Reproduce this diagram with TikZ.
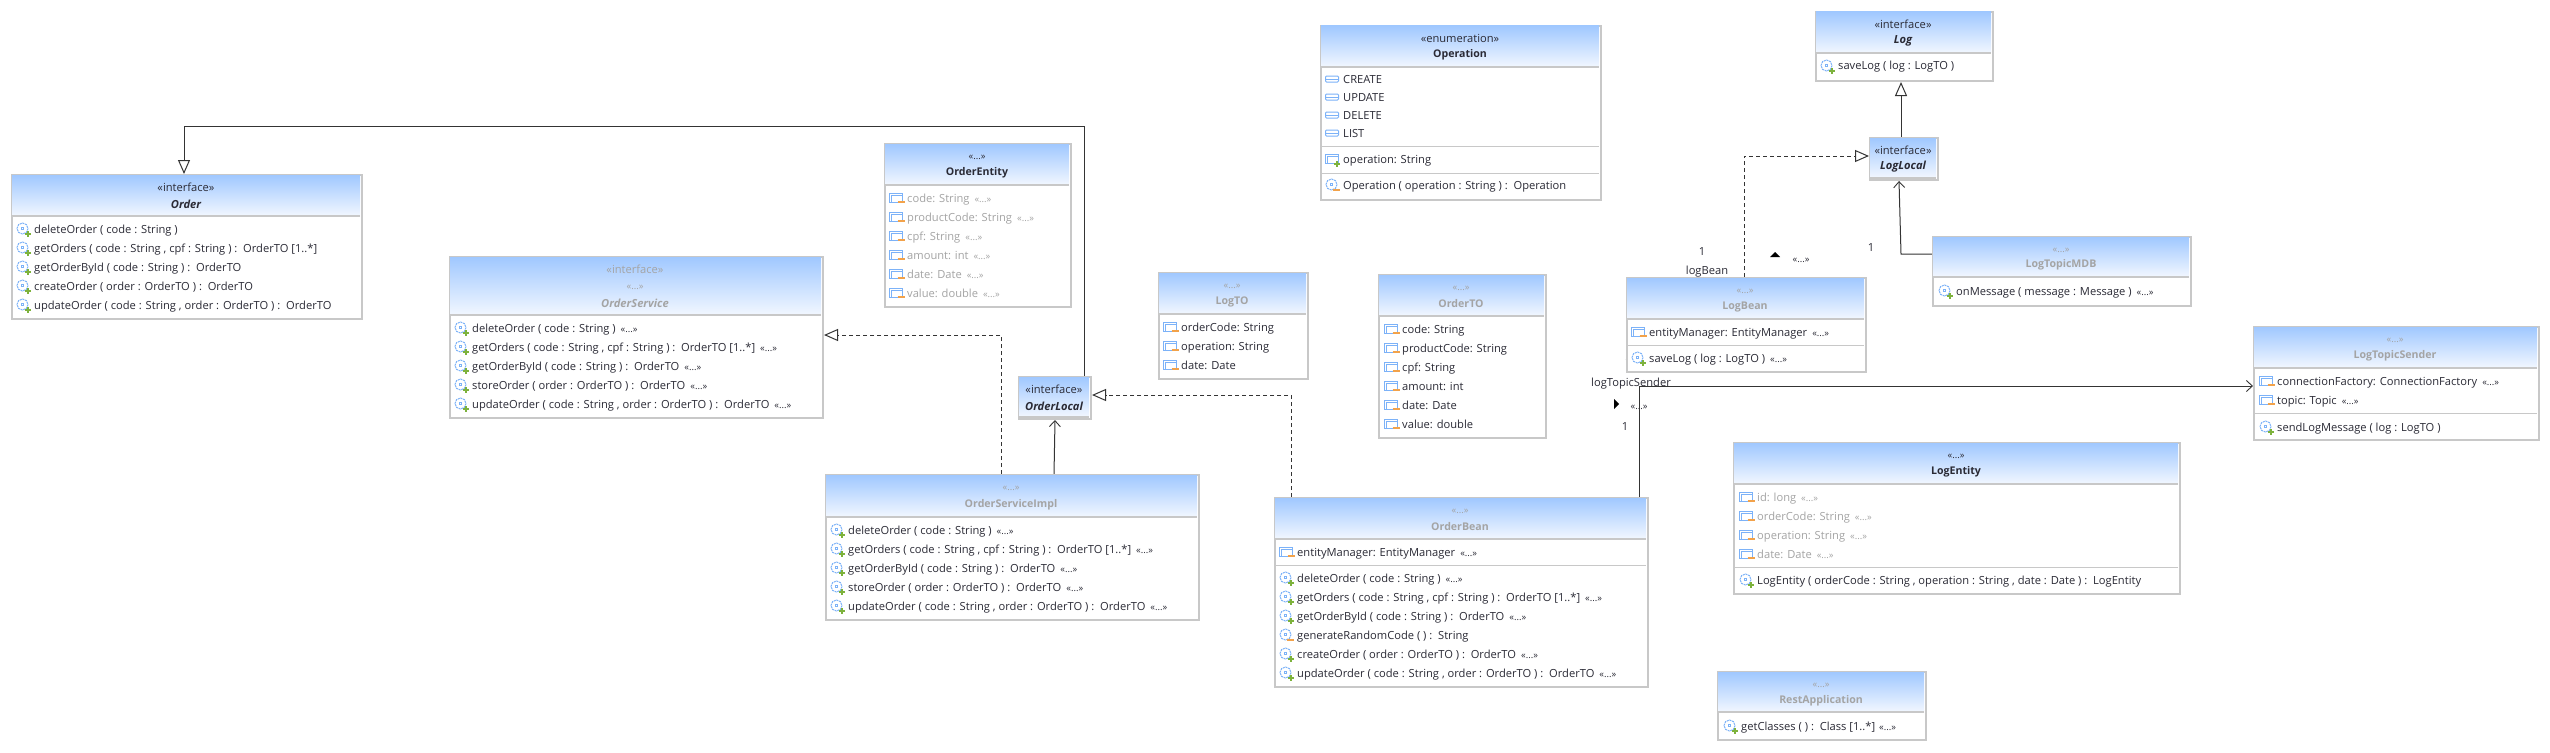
\documentclass[tikz,border=0pt]{standalone}
\usepackage{fontspec}
\setmainfont{Open Sans}
\usetikzlibrary{arrows.meta,calc}
\definecolor{hdt}{HTML}{A0C8FF}
\definecolor{hdb}{HTML}{F2F7FF}
\definecolor{bord}{HTML}{C8C8C8}
\definecolor{txt}{HTML}{2A2A35}
\definecolor{gry}{HTML}{A4A4A4}
\definecolor{lin}{HTML}{343434}
\definecolor{icb}{HTML}{7CB2F8}
\definecolor{icg}{HTML}{7DB23C}
\definecolor{ico}{HTML}{F2A24A}
\newcounter{tn}
\newcommand\bodyfont{\fontsize{11.15}{13}\selectfont}
\newcommand\boldfont{\fontsize{10.6}{13}\selectfont}
\newcommand\stfont{\fontsize{9.4}{10}\selectfont}
\newcommand\st{\hspace{5pt}{\stfont «...»}}
\tikzset{
 boxnode/.style={draw=bord,line width=2pt,fill=white,inner sep=0pt,anchor=north west},
 rowt/.style={anchor=base west,inner sep=0pt,text=txt,font=\bodyfont},
 rowg/.style={rowt,text=gry},
 hdS/.style={inner sep=0pt,text=txt,font=\bodyfont},
 hdSg/.style={hdS,text=gry},
 hdD/.style={inner sep=0pt,text=txt,font=\stfont},
 hdDg/.style={hdD,text=gry},
 nameb/.style={inner sep=0pt,text=txt,font=\boldfont\bfseries},
 namei/.style={inner sep=0pt,text=txt,font=\bodyfont\bfseries\itshape},
 nameg/.style={nameb,text=gry},
 nameig/.style={namei,text=gry},
 conn/.style={draw=lin,line width=1pt},
 gen/.style={conn,-{Triangle[open,fill=white,length=14pt,width=12pt]}},
 real/.style={gen,dash pattern=on 4pt off 3pt},
 nav/.style={conn,-{Straight Barb[length=6pt,width=11pt,line width=.9pt]}},
 elab/.style={inner sep=0pt,text=txt,font=\bodyfont},
}
\pgfdeclarelayer{bg}
\pgfsetlayers{bg,main}
% box: name x1 y1 x2 y2 yh
\newcommand\ubox[6]{%
 \node[boxnode,minimum width={(#4-#2-2)*1pt},minimum height={(#5-#3-2)*1pt}] (#1) at (#2+1,#3+1) {};
 \shade[top color=hdt,bottom color=hdb] (#2+2,#3+2) rectangle (#4-2,#6);
 \draw[bord,line width=2pt] (#2+2,#6) -- (#4-2,#6);
}
\newcommand\usep[3]{\draw[bord,line width=1pt] (#1+2,#3) -- (#2-2,#3);}
\newcommand\lab[4]{\stepcounter{tn}\node[#1] (t\arabic{tn}) at (#2,#3) {#4};}
\newcommand\icop[2]{%
 \draw[icb,line width=1pt,dash pattern=on 2pt off .8pt] (#1-.5,#2-.5) circle (5.5);
 \draw[icb,line width=.8pt] (#1-2,#2-2) rectangle (#1,#2);}
\newcommand\icplus[2]{\draw[icg,line width=2pt] (#1-3,#2) -- (#1+3,#2) (#1,#2-3) -- (#1,#2+3);}
\newcommand\icminus[2]{\draw[ico,line width=2pt] (#1-3.5,#2) -- (#1+3.5,#2);}
\newcommand\icfield[2]{%
 \draw[icb,line width=1pt] (#1-7,#2-5) rectangle (#1+6,#2+4);
 \draw[icb,line width=1pt] (#1-4.5,#2+4) -- (#1-4.5,#2-2.5) -- (#1+6,#2-2.5);}
\newcommand\icO[2]{\icop{#1}{#2}\icplus{#1+5}{#2+5}}
\newcommand\icP[2]{\icop{#1}{#2}\icminus{#1+4}{#2+5}}
\newcommand\icA[2]{\icfield{#1}{#2}\icminus{#1+5}{#2+4}}
\newcommand\icF[2]{\icfield{#1}{#2}\icplus{#1+5}{#2+5}}
\newcommand\icL[2]{\draw[icb,line width=1pt,rounded corners=1pt] (#1-6.5,#2-3) rectangle (#1+6.5,#2+3);\draw[icb,line width=1pt] (#1-6,#2) -- (#1+6,#2);}
% row: icon x y style text
\newcommand\rw[5]{\csname ic#1\endcsname{#2-11}{#3}\lab{#4}{#2}{#3+4}{#5}}
\begin{document}
\begin{tikzpicture}[x=1pt,y=-1pt]
\useasboundingbox (0,0) rectangle (2550,752);
\begin{pgfonlayer}{bg}
\fill[white] (0,0) rectangle (2550,752);
\end{pgfonlayer}
%% Order
\ubox{order}{10}{173}{362}{319}{216}
\lab{hdS}{186}{187}{«interface»}\lab{namei}{186}{204}{Order}
\rw{O}{34}{229}{rowt}{deleteOrder ( code : String )}
\rw{O}{34}{248}{rowt}{getOrders ( code : String , cpf : String ) :\ \ OrderTO [1..*]}
\rw{O}{34}{267}{rowt}{getOrderById ( code : String ) :\ \ OrderTO}
\rw{O}{34}{286}{rowt}{createOrder ( order : OrderTO ) :\ \ OrderTO}
\rw{O}{34}{305}{rowt}{updateOrder ( code : String , order : OrderTO ) :\ \ OrderTO}
%% OrderService
\ubox{oservice}{448}{255}{823}{418}{315}
\lab{hdSg}{635}{269}{«interface»}\lab{hdDg}{635}{287}{«...»}\lab{nameig}{635}{303}{OrderService}
\rw{O}{472}{328}{rowt}{deleteOrder ( code : String )\st}
\rw{O}{472}{347}{rowt}{getOrders ( code : String , cpf : String ) :\ \ OrderTO [1..*]\st}
\rw{O}{472}{366}{rowt}{getOrderById ( code : String ) :\ \ OrderTO\st}
\rw{O}{472}{385}{rowt}{storeOrder ( order : OrderTO ) :\ \ OrderTO\st}
\rw{O}{472}{404}{rowt}{updateOrder ( code : String , order : OrderTO ) :\ \ OrderTO\st}
%% OrderEntity
\ubox{oentity}{883}{142}{1071}{307}{185}
\lab{hdD}{977}{157}{«...»}\lab{nameb}{977}{173}{OrderEntity}
\rw{A}{907}{198}{rowg}{code: String\st}
\rw{A}{907}{217}{rowg}{productCode: String\st}
\rw{A}{907}{236}{rowg}{cpf: String\st}
\rw{A}{907}{255}{rowg}{amount: int\st}
\rw{A}{907}{274}{rowg}{date: Date\st}
\rw{A}{907}{293}{rowg}{value: double\st}
%% LogTO
\ubox{logto}{1157}{271}{1308}{379}{314}
\lab{hdDg}{1232}{286}{«...»}\lab{nameg}{1232}{302}{LogTO}
\rw{A}{1181}{327}{rowt}{orderCode: String}
\rw{A}{1181}{346}{rowt}{operation: String}
\rw{A}{1181}{365}{rowt}{date: Date}
%% OrderTO
\ubox{orderto}{1377}{273}{1546}{438}{316}
\lab{hdDg}{1461}{288}{«...»}\lab{nameg}{1461}{304}{OrderTO}
\rw{A}{1402}{329}{rowt}{code: String}
\rw{A}{1402}{348}{rowt}{productCode: String}
\rw{A}{1402}{367}{rowt}{cpf: String}
\rw{A}{1402}{386}{rowt}{amount: int}
\rw{A}{1402}{405}{rowt}{date: Date}
\rw{A}{1402}{424}{rowt}{value: double}
%% Operation
\ubox{operation}{1319}{24}{1601}{200}{67}
\lab{hdS}{1460}{38}{«enumeration»}\lab{nameb}{1460}{55}{Operation}
\rw{L}{1343}{79}{rowt}{CREATE}
\rw{L}{1343}{97}{rowt}{UPDATE}
\rw{L}{1343}{115}{rowt}{DELETE}
\rw{L}{1343}{133}{rowt}{LIST}
\usep{1319}{1601}{146}
\rw{F}{1343}{159}{rowt}{operation: String}
\usep{1319}{1601}{173}
\rw{P}{1343}{185}{rowt}{Operation ( operation : String ) :\ \ Operation}
%% Log
\ubox{log}{1814}{10}{1993}{81}{53}
\lab{hdS}{1903}{24}{«interface»}\lab{namei}{1903}{41}{Log}
\rw{O}{1838}{66}{rowt}{saveLog ( log : LogTO )}
%% LogLocal
\ubox{loglocal}{1868}{136}{1938}{180}{178}
\lab{hdS}{1903}{150}{«interface»}\lab{namei}{1903}{167}{LogLocal}
%% OrderLocal
\ubox{olocal}{1017}{375}{1091}{419}{417}
\lab{hdS}{1054}{389}{«interface»}\lab{namei}{1054}{406}{OrderLocal}
%% OrderServiceImpl
\ubox{oimpl}{824}{473}{1199}{620}{517}
\lab{hdDg}{1011}{488}{«...»}\lab{nameg}{1011}{505}{OrderServiceImpl}
\rw{O}{848}{530}{rowt}{deleteOrder ( code : String )\st}
\rw{O}{848}{549}{rowt}{getOrders ( code : String , cpf : String ) :\ \ OrderTO [1..*]\st}
\rw{O}{848}{568}{rowt}{getOrderById ( code : String ) :\ \ OrderTO\st}
\rw{O}{848}{587}{rowt}{storeOrder ( order : OrderTO ) :\ \ OrderTO\st}
\rw{O}{848}{606}{rowt}{updateOrder ( code : String , order : OrderTO ) :\ \ OrderTO\st}
%% OrderBean
\ubox{obean}{1273}{496}{1648}{687}{539}
\lab{hdDg}{1460}{511}{«...»}\lab{nameg}{1460}{527}{OrderBean}
\rw{A}{1297}{552}{rowt}{entityManager: EntityManager\st}
\usep{1273}{1648}{565}
\rw{O}{1297}{578}{rowt}{deleteOrder ( code : String )\st}
\rw{O}{1297}{597}{rowt}{getOrders ( code : String , cpf : String ) :\ \ OrderTO [1..*]\st}
\rw{O}{1297}{616}{rowt}{getOrderById ( code : String ) :\ \ OrderTO\st}
\rw{P}{1297}{635}{rowt}{generateRandomCode ( ) :\ \ String}
\rw{O}{1297}{654}{rowt}{createOrder ( order : OrderTO ) :\ \ OrderTO\st}
\rw{O}{1297}{673}{rowt}{updateOrder ( code : String , order : OrderTO ) :\ \ OrderTO\st}
%% LogBean
\ubox{logbean}{1625}{276}{1866}{372}{319}
\lab{hdDg}{1745}{291}{«...»}\lab{nameg}{1745}{307}{LogBean}
\rw{A}{1649}{332}{rowt}{entityManager: EntityManager\st}
\usep{1625}{1866}{345}
\rw{O}{1649}{358}{rowt}{saveLog ( log : LogTO )\st}
%% LogTopicMDB
\ubox{mdb}{1931}{235}{2191}{306}{277}
\lab{hdDg}{2061}{250}{«...»}\lab{nameg}{2061}{265}{LogTopicMDB}
\rw{O}{1956}{291}{rowt}{onMessage ( message : Message )\st}
%% LogTopicSender
\ubox{sender}{2252}{325}{2539}{440}{368}
\lab{hdDg}{2395}{340}{«...»}\lab{nameg}{2395}{356}{LogTopicSender}
\rw{A}{2277}{381}{rowt}{connectionFactory: ConnectionFactory\st}
\rw{A}{2277}{400}{rowt}{topic: Topic\st}
\usep{2252}{2539}{413}
\rw{O}{2277}{427}{rowt}{sendLogMessage ( log : LogTO )}
%% LogEntity
\ubox{logentity}{1732}{441}{2180}{594}{484}
\lab{hdD}{1956}{456}{«...»}\lab{nameb}{1956}{472}{LogEntity}
\rw{A}{1757}{497}{rowg}{id: long\st}
\rw{A}{1757}{516}{rowg}{orderCode: String\st}
\rw{A}{1757}{535}{rowg}{operation: String\st}
\rw{A}{1757}{554}{rowg}{date: Date\st}
\usep{1732}{2180}{567}
\rw{O}{1757}{580}{rowt}{LogEntity ( orderCode : String , operation : String , date : Date ) :\ \ LogEntity}
%% RestApplication
\ubox{rest}{1716}{670}{1926}{740}{712}
\lab{hdDg}{1821}{685}{«...»}\lab{nameg}{1821}{701}{RestApplication}
\rw{O}{1741}{726}{rowt}{getClasses ( ) :\ \ Class [1..*]\hspace{-1pt}\st}
%% connectors and end labels, beneath the boxes
\begin{pgfonlayer}{bg}
\lab{elab}{1068}{197}{n}
\lab{elab}{1702}{252}{1}
\lab{elab}{1707}{272}{logBean}
\lab{hdD}{1801}{260}{«...»}
\lab{elab}{1871}{248}{1}
\lab{elab}{1628}{363}{1}
\lab{elab}{1631}{384}{logTopicSender}
\lab{hdD}{1639}{407}{«...»}
\lab{elab}{1625}{427}{1}
\fill[black] (1770,257) -- (1780,257) -- (1775,252) -- cycle;
\fill[black] (1614,399) -- (1619,404) -- (1614,409) -- cycle;
\draw[gen] (1084,0 |- olocal.north) -- (1084,126) -- (184,126) -- (184,0 |- order.north);
\draw[real] (1001,0 |- oimpl.north) -- (1001,335) -- (oservice.east |- 0,335);
\draw[nav] (1054,0 |- oimpl.north) -- (olocal.south);
\draw[real] (1291,0 |- obean.north) -- (1291,395) -- (olocal.east |- 0,395);
\draw[conn] (1639,0 |- obean.north) -- (1639,386);
\draw[nav] (1639,386) -- (sender.west |- 0,386);
\draw[real] (1744,0 |- logbean.north) -- (1744,156) -- (loglocal.west |- 0,156);
\draw[nav] (mdb.west |- 0,254) -- (1901,254) -- (1899,0 |- loglocal.south);
\draw[gen] (1901,0 |- loglocal.north) -- (1901,0 |- log.south);
\end{pgfonlayer}
\end{tikzpicture}
\end{document}
